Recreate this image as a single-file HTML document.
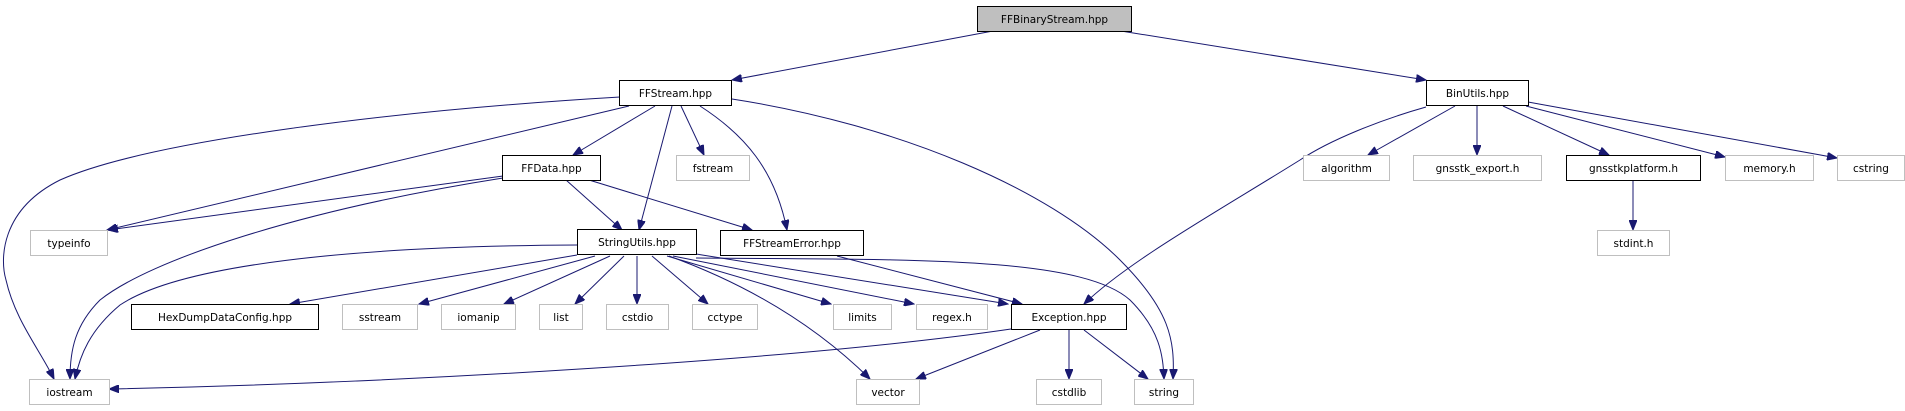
<!DOCTYPE html>
<html><head><meta charset="utf-8"><style>
html,body{margin:0;padding:0;background:#fff;}
svg{display:block;}
text{font-family:"DejaVu Sans","Liberation Sans",sans-serif;font-size:10.5px;fill:#000;}
.g{fill:#fff;stroke:#bfbfbf;stroke-width:1;}
.b{fill:#fff;stroke:#000;stroke-width:1;}
.e{fill:none;stroke:#191970;stroke-width:1;marker-end:url(#a);}
</style></head><body>
<svg width="1905" height="411" viewBox="0 0 1905 411" xmlns="http://www.w3.org/2000/svg">
<defs><marker id="a" markerUnits="userSpaceOnUse" markerWidth="11" markerHeight="8" refX="10" refY="4" orient="auto"><path d="M0,0 L10,4 L0,8 z" fill="#191970" stroke="#191970"/></marker></defs>
<g>
<line class="e" x1="993" y1="31" x2="732" y2="80"/>
<line class="e" x1="1121" y1="31" x2="1426" y2="80"/>
<path class="e" d="M620,97 C400,110 150,140 60,180 C0,210 0,260 6,280 C15,320 40,350 54,379"/>
<line class="e" x1="629" y1="106" x2="107" y2="230"/>
<line class="e" x1="655" y1="106" x2="573" y2="155"/>
<line class="e" x1="672" y1="106" x2="639" y2="230"/>
<line class="e" x1="681" y1="106" x2="704" y2="155"/>
<path class="e" d="M700,106 C745,135 775,170 787,230"/>
<path class="e" d="M732,99 C900,125 1050,190 1120,260 C1170,310 1175,340 1173,379"/>
<line class="e" x1="503" y1="176" x2="108" y2="230"/>
<path class="e" d="M503,178 C300,210 150,260 100,300 C75,325 70,350 70,379"/>
<line class="e" x1="566" y1="180" x2="622" y2="230"/>
<line class="e" x1="589" y1="180" x2="752" y2="230"/>
<path class="e" d="M578,245 C350,246 180,265 120,305 C90,330 80,355 75,379"/>
<line class="e" x1="577" y1="255" x2="290" y2="304"/>
<line class="e" x1="595" y1="256" x2="419" y2="304"/>
<line class="e" x1="610" y1="256" x2="504" y2="304"/>
<line class="e" x1="624" y1="256" x2="575" y2="304"/>
<line class="e" x1="637" y1="256" x2="637" y2="304"/>
<line class="e" x1="652" y1="256" x2="708" y2="304"/>
<path class="e" d="M669,256 Q790,300 870,379"/>
<line class="e" x1="667" y1="256" x2="831" y2="304"/>
<line class="e" x1="673" y1="256" x2="914" y2="304"/>
<line class="e" x1="696" y1="254" x2="1008" y2="304"/>
<path class="e" d="M696,258 C900,260 1080,255 1130,300 C1160,330 1163,355 1164,379"/>
<line class="e" x1="837" y1="256" x2="1022" y2="304"/>
<path class="e" d="M1426,107 C1380,120 1330,140 1300,160 C1220,210 1130,260 1084,304"/>
<line class="e" x1="1455" y1="106" x2="1368" y2="155"/>
<line class="e" x1="1477" y1="106" x2="1477" y2="155"/>
<line class="e" x1="1503" y1="106" x2="1609" y2="155"/>
<line class="e" x1="1526" y1="106" x2="1725" y2="157"/>
<line class="e" x1="1528" y1="102" x2="1837" y2="158"/>
<line class="e" x1="1633" y1="180" x2="1633" y2="230"/>
<path class="e" d="M1011,329 C800,360 400,383 109,389"/>
<line class="e" x1="1040" y1="330" x2="916" y2="379"/>
<line class="e" x1="1069" y1="330" x2="1069" y2="379"/>
<line class="e" x1="1084" y1="330" x2="1148" y2="379"/>
</g>
<g text-anchor="middle">
<rect x="977.5" y="6.5" width="154" height="25" fill="#bfbfbf" stroke="#000"/><text x="1054.5" y="23">FFBinaryStream.hpp</text>
<rect class="b" x="619.5" y="80.5" width="112" height="25"/><text x="675.5" y="97">FFStream.hpp</text>
<rect class="b" x="1426.5" y="80.5" width="102" height="25"/><text x="1477.5" y="97">BinUtils.hpp</text>
<rect class="b" x="502.5" y="155.5" width="98" height="25"/><text x="551.5" y="172">FFData.hpp</text>
<rect class="g" x="676.5" y="155.5" width="73" height="25"/><text x="713" y="172">fstream</text>
<rect class="g" x="1303.5" y="155.5" width="86" height="25"/><text x="1346.5" y="172">algorithm</text>
<rect class="g" x="1413.5" y="155.5" width="128" height="25"/><text x="1477.5" y="172">gnsstk_export.h</text>
<rect class="b" x="1566.5" y="155.5" width="134" height="25"/><text x="1633.5" y="172">gnsstkplatform.h</text>
<rect class="g" x="1725.5" y="155.5" width="88" height="25"/><text x="1769.5" y="172">memory.h</text>
<rect class="g" x="1837.5" y="155.5" width="67" height="25"/><text x="1871" y="172">cstring</text>
<rect class="g" x="30.5" y="230.5" width="77" height="25"/><text x="69" y="247">typeinfo</text>
<rect class="b" x="577.5" y="229.5" width="119" height="25"/><text x="637" y="246">StringUtils.hpp</text>
<rect class="b" x="720.5" y="230.5" width="143" height="25"/><text x="792" y="247">FFStreamError.hpp</text>
<rect class="g" x="1597.5" y="230.5" width="72" height="25"/><text x="1633.5" y="247">stdint.h</text>
<rect class="b" x="131.5" y="304.5" width="187" height="25"/><text x="225" y="321">HexDumpDataConfig.hpp</text>
<rect class="g" x="342.5" y="304.5" width="75" height="25"/><text x="380" y="321">sstream</text>
<rect class="g" x="441.5" y="304.5" width="74" height="25"/><text x="478.5" y="321">iomanip</text>
<rect class="g" x="539.5" y="304.5" width="43" height="25"/><text x="561" y="321">list</text>
<rect class="g" x="606.5" y="304.5" width="62" height="25"/><text x="637.5" y="321">cstdio</text>
<rect class="g" x="692.5" y="304.5" width="65" height="25"/><text x="725" y="321">cctype</text>
<rect class="g" x="833.5" y="304.5" width="58" height="25"/><text x="862.5" y="321">limits</text>
<rect class="g" x="916.5" y="304.5" width="71" height="25"/><text x="952" y="321">regex.h</text>
<rect class="b" x="1011.5" y="304.5" width="115" height="25"/><text x="1069" y="321">Exception.hpp</text>
<rect class="g" x="29.5" y="379.5" width="80" height="25"/><text x="69.5" y="396">iostream</text>
<rect class="g" x="856.5" y="379.5" width="63" height="25"/><text x="888" y="396">vector</text>
<rect class="g" x="1036.5" y="379.5" width="65" height="25"/><text x="1069" y="396">cstdlib</text>
<rect class="g" x="1134.5" y="379.5" width="59" height="25"/><text x="1164" y="396">string</text>
</g>
</svg>
</body></html>
